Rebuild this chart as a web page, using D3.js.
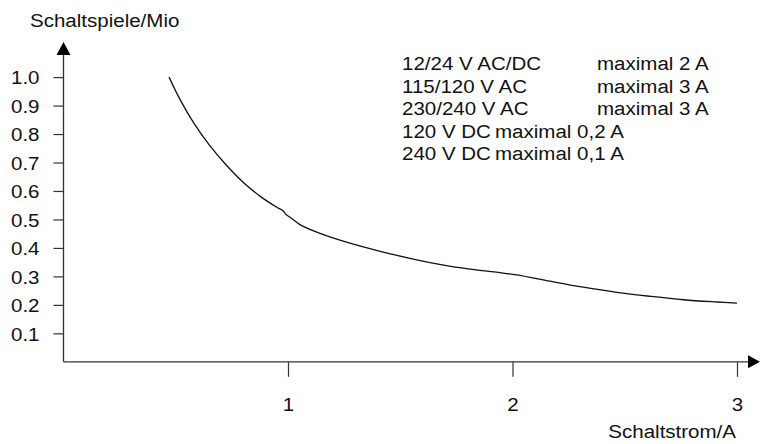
<!DOCTYPE html>
<html>
<head>
<meta charset="utf-8">
<script src="https://d3js.org/d3.v7.min.js"></script>
<style>
  body { margin: 0; background: #fff; }
  text { font-family: "Liberation Sans", Arial, sans-serif; font-size: 19px; fill: #111; }
</style>
</head>
<body>
<svg width="760" height="444"></svg>
<script>
// values
const strom = [0.47, 0.52, 0.58, 0.65, 0.73, 0.80, 0.875, 0.95, 0.979, 0.99, 1.009, 1.053, 1.143, 1.261, 1.41, 1.558, 1.707, 1.855, 1.944, 2.019, 2.167, 2.315, 2.464, 2.613, 2.761, 2.91, 3.0];
const schaltspiele = [1.0, 0.92, 0.839, 0.761, 0.687, 0.631, 0.582, 0.543, 0.530, 0.518, 0.508, 0.482, 0.451, 0.42, 0.388, 0.361, 0.338, 0.321, 0.313, 0.305, 0.283, 0.262, 0.244, 0.23, 0.218, 0.21, 0.206];
const yTicks = [0.1, 0.2, 0.3, 0.4, 0.5, 0.6, 0.7, 0.8, 0.9, 1.0];
const xTicks = [1, 2, 3];
const spannung = ["12/24 V AC/DC", "115/120 V AC", "230/240 V AC", "120 V DC", "240 V DC"];
const maxStrom = ["maximal 2 A", "maximal 3 A", "maximal 3 A", "maximal 0,2 A", "maximal 0,1 A"];

const svg = d3.select("svg");
const sx = 1.08; // the source font is a bit wider than Liberation Sans

const x = d3.scaleLinear().domain([0, 3]).range([63.5, 737]);
const y = d3.scaleLinear().domain([0, 1]).range([361.8, 77.1]);

function label(g, str, px, py, anchor) {
  g.append("text")
    .attr("transform", "translate(" + px + "," + py + ") scale(" + sx + ",1)")
    .attr("text-anchor", anchor || "start")
    .text(str);
}

// y axis ticks
const yAxis = svg.append("g")
  .attr("transform", "translate(" + x(0) + ",0)")
  .call(d3.axisLeft(y).tickValues(yTicks).tickSize(10).tickFormat(d3.format(".1f")));
yAxis.select(".domain").remove();
yAxis.selectAll("line").attr("stroke", "#333").attr("stroke-width", 1.2);
yAxis.selectAll("text")
  .attr("font-family", null).attr("font-size", null)
  .attr("x", -24 / sx).attr("dy", "0.36em")
  .attr("transform", "scale(" + sx + ",1)");

// x axis ticks
const xAxis = svg.append("g")
  .attr("transform", "translate(0," + y(0) + ")")
  .call(d3.axisBottom(x).tickValues(xTicks).tickSize(15).tickFormat(d3.format("d")));
xAxis.select(".domain").remove();
xAxis.selectAll("line").attr("stroke", "#333").attr("stroke-width", 1.2);
xAxis.selectAll("text")
  .attr("font-family", null).attr("font-size", null)
  .attr("y", 49).attr("dy", null)
  .attr("transform", "scale(" + sx + ",1)");

// axis lines with arrows
svg.append("line")
  .attr("x1", x(0)).attr("y1", y(0)).attr("x2", x(0)).attr("y2", 54)
  .attr("stroke", "#333").attr("stroke-width", 1.3);
svg.append("path")
  .attr("d", d3.line()([[x(0), 42], [x(0) - 7, 55], [x(0) + 7, 55]]) + "Z")
  .attr("fill", "#000");
svg.append("line")
  .attr("x1", x(0)).attr("y1", y(0)).attr("x2", 750).attr("y2", y(0))
  .attr("stroke", "#333").attr("stroke-width", 1.3);
svg.append("path")
  .attr("d", d3.line()([[760, y(0)], [748, y(0) - 6.5], [748, y(0) + 6.5]]) + "Z")
  .attr("fill", "#000");

// curve
const line = d3.line()
  .x((d, i) => x(strom[i]))
  .y(d => y(d))
  .curve(d3.curveCatmullRom.alpha(0.5));
svg.append("path")
  .datum(schaltspiele)
  .attr("d", line)
  .attr("fill", "none")
  .attr("stroke", "#111")
  .attr("stroke-width", 1.3);

// axis titles
label(svg, "Schaltspiele/Mio", 30, 26.7);
label(svg, "Schaltstrom/A", 736, 438, "end");

// legend
const leg = svg.append("g");
spannung.forEach((s, i) => {
  const by = 70 + i * 22.5;
  label(leg, s, 402, by);
  label(leg, maxStrom[i], i < 3 ? 597 : 495, by);
});
</script>
</body>
</html>
